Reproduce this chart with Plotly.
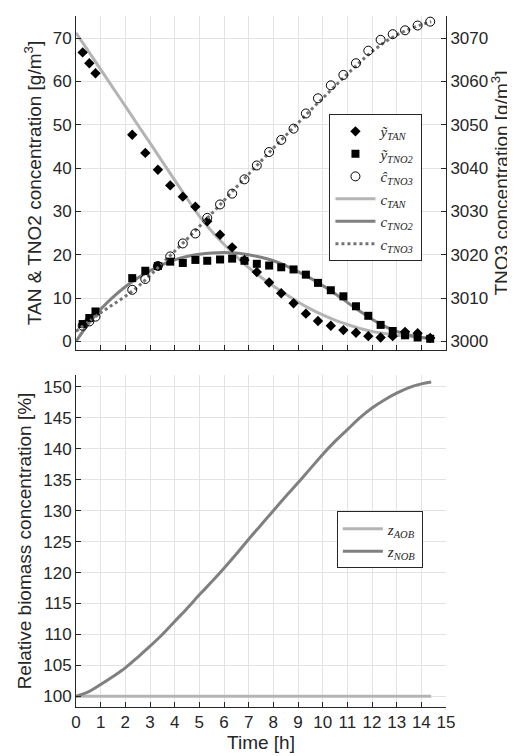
import plotly.graph_objects as go

# ---------------- data ----------------
t_meas = [0.27, 0.54, 0.79, 2.28, 2.81, 3.32, 3.82, 4.33, 4.84, 5.32, 5.84, 6.33, 6.83, 7.33,
          7.83, 8.32, 8.82, 9.32, 9.81, 10.33, 10.84, 11.35, 11.85, 12.35, 12.84, 13.34, 13.85, 14.36]
y_tan = [66.7, 64.2, 61.9, 47.7, 43.5, 39.6, 36.0, 33.4, 31.1, 27.7, 24.6, 21.7, 18.8, 16.0,
         13.6, 11.1, 8.8, 6.4, 4.7, 3.6, 2.6, 2.0, 1.2, 0.9, 1.2, 2.2, 1.9, 0.8]
y_tno2 = [4.0, 5.4, 6.9, 14.6, 16.3, 17.4, 18.4, 18.1, 18.8, 18.6, 18.9, 19.1, 18.6, 17.9,
          17.5, 17.1, 16.6, 15.4, 13.5, 11.8, 10.4, 8.1, 5.9, 3.8, 2.4, 1.4, 0.9, 0.6]
c_tno3_hat = [3003.6, 3004.6, 3005.7, 3011.9, 3014.4, 3017.4, 3019.6, 3022.6, 3024.9, 3028.5,
              3031.6, 3034.1, 3037.4, 3040.6, 3043.7, 3046.5, 3049.1, 3052.6, 3056.1, 3059.1,
              3061.5, 3064.2, 3067.1, 3069.6, 3070.9, 3071.8, 3072.9, 3073.8]

t_model = [0, 0.5, 1, 1.5, 2, 2.5, 3, 3.5, 4, 4.5, 5, 5.5, 6, 6.5, 7, 7.5, 8, 8.5, 9, 9.5,
           10, 10.5, 11, 11.5, 12, 12.5, 13, 13.5, 14, 14.4]
c_tan = [71.2, 67.0, 62.8, 58.5, 54.3, 50.0, 45.8, 41.5, 37.2, 33.0, 28.9, 25.4, 22.4, 19.6,
         17.0, 14.8, 12.8, 10.9, 9.1, 7.5, 6.1, 4.9, 3.9, 3.0, 2.3, 1.8, 1.4, 1.1, 0.9, 0.8]
c_tno2 = [0.0, 4.0, 7.4, 10.2, 12.6, 14.6, 16.3, 17.7, 18.8, 19.6, 20.1, 20.4, 20.5, 20.4,
          20.0, 19.4, 18.6, 17.5, 16.1, 14.6, 12.9, 11.0, 9.0, 7.0, 5.1, 3.5, 2.3, 1.5, 0.9, 0.7]
c_tno3 = [3002.3, 3004.5, 3006.6, 3008.5, 3010.4, 3012.6, 3015.2, 3018.0, 3020.8, 3023.6,
          3026.5, 3029.5, 3032.5, 3035.6, 3038.6, 3041.6, 3044.6, 3047.5, 3050.4, 3053.3,
          3056.1, 3058.9, 3061.7, 3064.4, 3066.9, 3069.0, 3070.7, 3072.0, 3073.1, 3073.8]
z_aob = [100.0] * len(t_model)
z_nob = [100.0, 100.7, 101.9, 103.2, 104.6, 106.3, 108.1, 110.0, 112.1, 114.2, 116.4, 118.5,
         120.7, 123.0, 125.4, 127.7, 130.0, 132.3, 134.5, 136.8, 139.1, 141.2, 143.1, 145.0,
         146.6, 147.9, 149.0, 149.9, 150.5, 150.8]

x_ticks = list(range(0, 16))
y_ticks_top = [0, 10, 20, 30, 40, 50, 60, 70]
y2_ticks_top = [3000, 3010, 3020, 3030, 3040, 3050, 3060, 3070]
y_ticks_bot = [100, 105, 110, 115, 120, 125, 130, 135, 140, 145, 150]

# ---------------- style ----------------
AX = '#262626'
GRID = '#e3e3e3'
LIGHT = '#b4b4b4'
DARK = '#808080'
DOT = '#737373'
FONT = 'Liberation Sans, Arial, sans-serif'
SERIF = 'Liberation Serif, DejaVu Serif, serif'

fig = go.Figure()

# top plot lines (left axis)
fig.add_trace(go.Scatter(x=t_model, y=c_tan, mode='lines', line=dict(color=LIGHT, width=3, shape='spline'),
                         name='<i>c<sub>TAN</sub></i>', legendrank=4, xaxis='x', yaxis='y'))
fig.add_trace(go.Scatter(x=t_model, y=c_tno2, mode='lines', line=dict(color=DARK, width=3, shape='spline'),
                         name='<i>c<sub>TNO2</sub></i>', legendrank=5, xaxis='x', yaxis='y'))
fig.add_trace(go.Scatter(x=t_meas, y=y_tan, mode='markers',
                         marker=dict(symbol='diamond', size=8, color='black'),
                         name='<i>ỹ<sub>TAN</sub></i>', legendrank=1, xaxis='x', yaxis='y'))
fig.add_trace(go.Scatter(x=t_meas, y=y_tno2, mode='markers',
                         marker=dict(symbol='square', size=8, color='black'),
                         name='<i>ỹ<sub>TNO2</sub></i>', legendrank=2, xaxis='x', yaxis='y'))
# right axis
fig.add_trace(go.Scatter(x=t_model, y=c_tno3, mode='lines',
                         line=dict(color=DOT, width=3, dash='dot', shape='spline'),
                         name='<i>c<sub>TNO3</sub></i>', legendrank=6, xaxis='x', yaxis='y2'))
fig.add_trace(go.Scatter(x=t_meas, y=c_tno3_hat, mode='markers',
                         marker=dict(symbol='circle-open', size=9, color='black', line=dict(width=1, color='black')),
                         name='<i>ĉ<sub>TNO3</sub></i>', legendrank=3, xaxis='x', yaxis='y2'))

# bottom plot
fig.add_trace(go.Scatter(x=t_model, y=z_aob, mode='lines', line=dict(color=LIGHT, width=3),
                         name='<i>z<sub>AOB</sub></i>', legend='legend2', legendrank=1, xaxis='x2', yaxis='y3'))
fig.add_trace(go.Scatter(x=t_model, y=z_nob, mode='lines', line=dict(color=DARK, width=3, shape='spline'),
                         name='<i>z<sub>NOB</sub></i>', legend='legend2', legendrank=2, xaxis='x2', yaxis='y3'))

tick_font = dict(family=FONT, size=17, color=AX)
title_font = dict(family=FONT, size=19, color=AX)
common_axis = dict(showline=True, linecolor=AX, linewidth=1, ticks='inside', ticklen=5,
                   tickcolor=AX, tickwidth=1, zeroline=False, tickfont=tick_font)

fig.update_layout(
    template='none',
    width=515, height=756,
    margin=dict(l=68, r=77, t=8, b=57),
    paper_bgcolor='white', plot_bgcolor='white',
    font=dict(family=FONT, size=17, color=AX),
    xaxis=dict(domain=[0, 1], anchor='y', range=[0, 15], tickvals=x_ticks, showticklabels=False,
               showgrid=True, gridcolor=GRID, gridwidth=1, **common_axis),
    yaxis=dict(domain=[0.5166, 1], anchor='x', range=[-2.0, 75.1], tickvals=y_ticks_top,
               showgrid=True, gridcolor=GRID, gridwidth=1,
               title=dict(text='TAN & TNO2 concentration [g/m<sup>3</sup>]', font=title_font, standoff=6),
               **common_axis),
    yaxis2=dict(overlaying='y', side='right', anchor='x', range=[2998.0, 3075.1], tickvals=y2_ticks_top,
                showgrid=False,
                title=dict(text='TNO3 concentration [g/m<sup>3</sup>]', font=title_font, standoff=6),
                **common_axis),
    xaxis2=dict(domain=[0, 1], anchor='y3', range=[0, 15], tickvals=x_ticks,
                showgrid=True, gridcolor=GRID, gridwidth=1,
                title=dict(text='Time [h]', font=title_font, standoff=4),
                **common_axis),
    yaxis3=dict(domain=[0, 0.4805], anchor='x2', range=[98.27, 151.94], tickvals=y_ticks_bot,
                showgrid=True, gridcolor=GRID, gridwidth=1,
                title=dict(text='Relative biomass concentration [%]', font=title_font, standoff=6),
                **common_axis),
    legend=dict(x=0.685, y=0.858, xanchor='left', yanchor='top', bgcolor='white',
                bordercolor=AX, borderwidth=1, font=dict(family=SERIF, size=15, color=AX),
                tracegroupgap=0, itemwidth=40),
    legend2=dict(x=0.705, y=0.283, xanchor='left', yanchor='top', bgcolor='white',
                 bordercolor=AX, borderwidth=1, font=dict(family=SERIF, size=15, color=AX),
                 tracegroupgap=0, itemwidth=40),
    showlegend=True,
)

fig.write_html('out.html')
